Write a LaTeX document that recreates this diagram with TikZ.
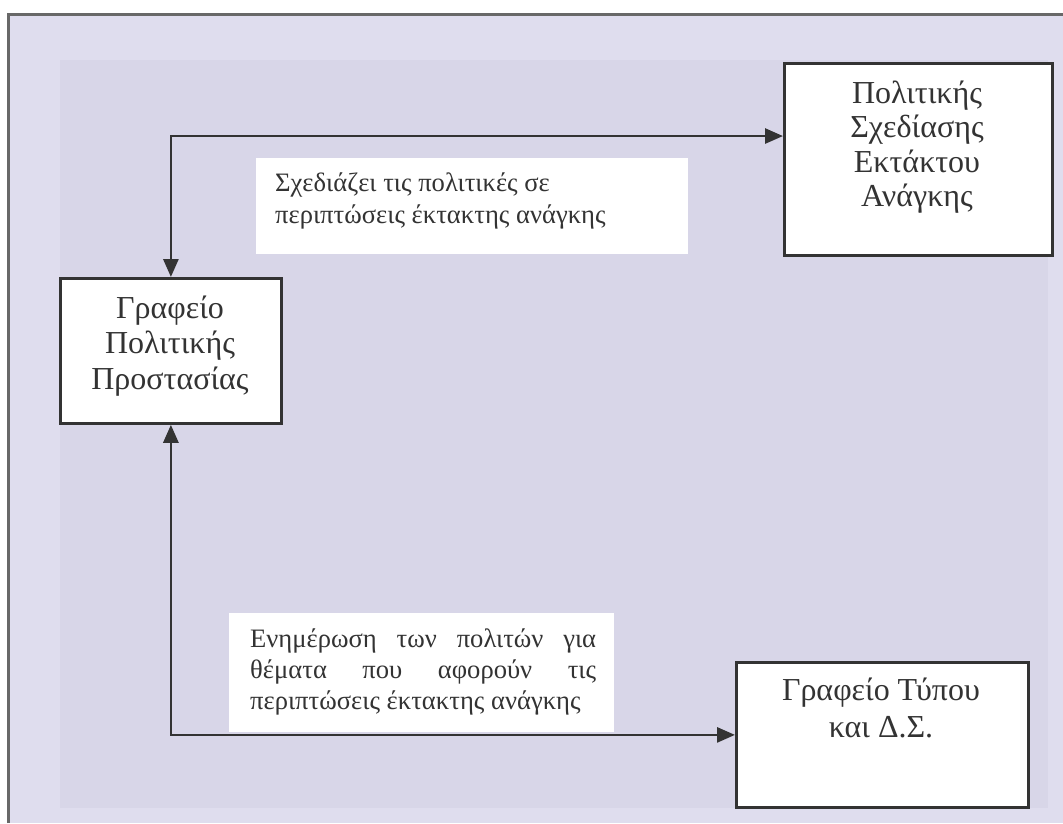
\documentclass[tikz,border=0pt]{standalone}
\usepackage{fontspec}
\setmainfont{Liberation Serif}
\usetikzlibrary{arrows.meta,calc}
\definecolor{page}{HTML}{DFDDEE}
\definecolor{panel}{HTML}{D8D6E8}
\definecolor{ink}{HTML}{333333}
\definecolor{rule}{HTML}{686868}

\begin{document}
\begin{tikzpicture}[x=1pt,y=-1pt,
  box/.style={draw=ink, line width=2.8pt, fill=white, inner sep=0pt, anchor=north west},
  txt/.style={anchor=base, inner sep=0pt, text=ink},
  boxtext/.style={txt, font=\fontsize{32}{34.5}\selectfont},
  tagtext/.style={txt, anchor=base west, font=\fontsize{26.6}{31.5}\selectfont},
  conn/.style={draw=ink, line width=2.8pt,
    {Triangle[length=18pt,width=15pt]}-{Triangle[length=18pt,width=15pt]}},
  tag/.style={fill=white, inner sep=0pt, anchor=north west}]

% page, shaded panel and frame
\useasboundingbox (0,0) rectangle (1063,823);
\fill[white] (0,0) rectangle (1063,823);
\fill[page] (8,14) rectangle (1063,823);
\fill[panel] (60,60) rectangle (1048,808);
\draw[rule, line width=3pt] (8,823) -- (8,14) -- (1063,14);

% boxes
\node[box, minimum width=268pt, minimum height=192pt] (psa) at (783,62) {};
\node[box, minimum width=221pt, minimum height=145pt] (gpp) at (59,277) {};
\node[box, minimum width=292pt, minimum height=145pt] (gt) at (735,661) {};

\node[boxtext] (psa-t) at (917,103)
  {\parbox[t]{260pt}{\centering Πολιτικής\\Σχεδίασης\\Εκτάκτου\\Ανάγκης}};
\node[boxtext, font=\fontsize{32}{35.5}\selectfont] (gpp-t) at (170,318)
  {\parbox[t]{215pt}{\centering Γραφείο\\Πολιτικής\\Προστασίας}};
\node[boxtext, font=\fontsize{32}{37}\selectfont] (gt-t) at (881,700)
  {\parbox[t]{285pt}{\centering Γραφείο Τύπου\\και Δ.Σ.}};

% connectors
\draw[conn] (gpp.north) |- ($(psa.north west)!0.38!(psa.south west)$);
\draw[conn] (gpp.south) |- (gt.west);

% connector labels
\node[tag, minimum width=432pt, minimum height=96pt] (lab1) at (256,158) {};
\node[tagtext] (lab1-t) at (275,191.7)
  {\parbox[t]{400pt}{\raggedright Σχεδιάζει τις πολιτικές σε\\περιπτώσεις έκτακτης ανάγκης}};

\node[tag, minimum width=385pt, minimum height=119pt] (lab2) at (229,613) {};
\node[tagtext, font=\fontsize{26.6}{31}\selectfont] (lab2-t) at (250,647)
  {\parbox[t]{346pt}{Ενημέρωση των πολιτών για\linebreak
   θέματα που αφορούν τις\linebreak περιπτώσεις έκτακτης ανάγκης}};
\end{tikzpicture}
\end{document}
